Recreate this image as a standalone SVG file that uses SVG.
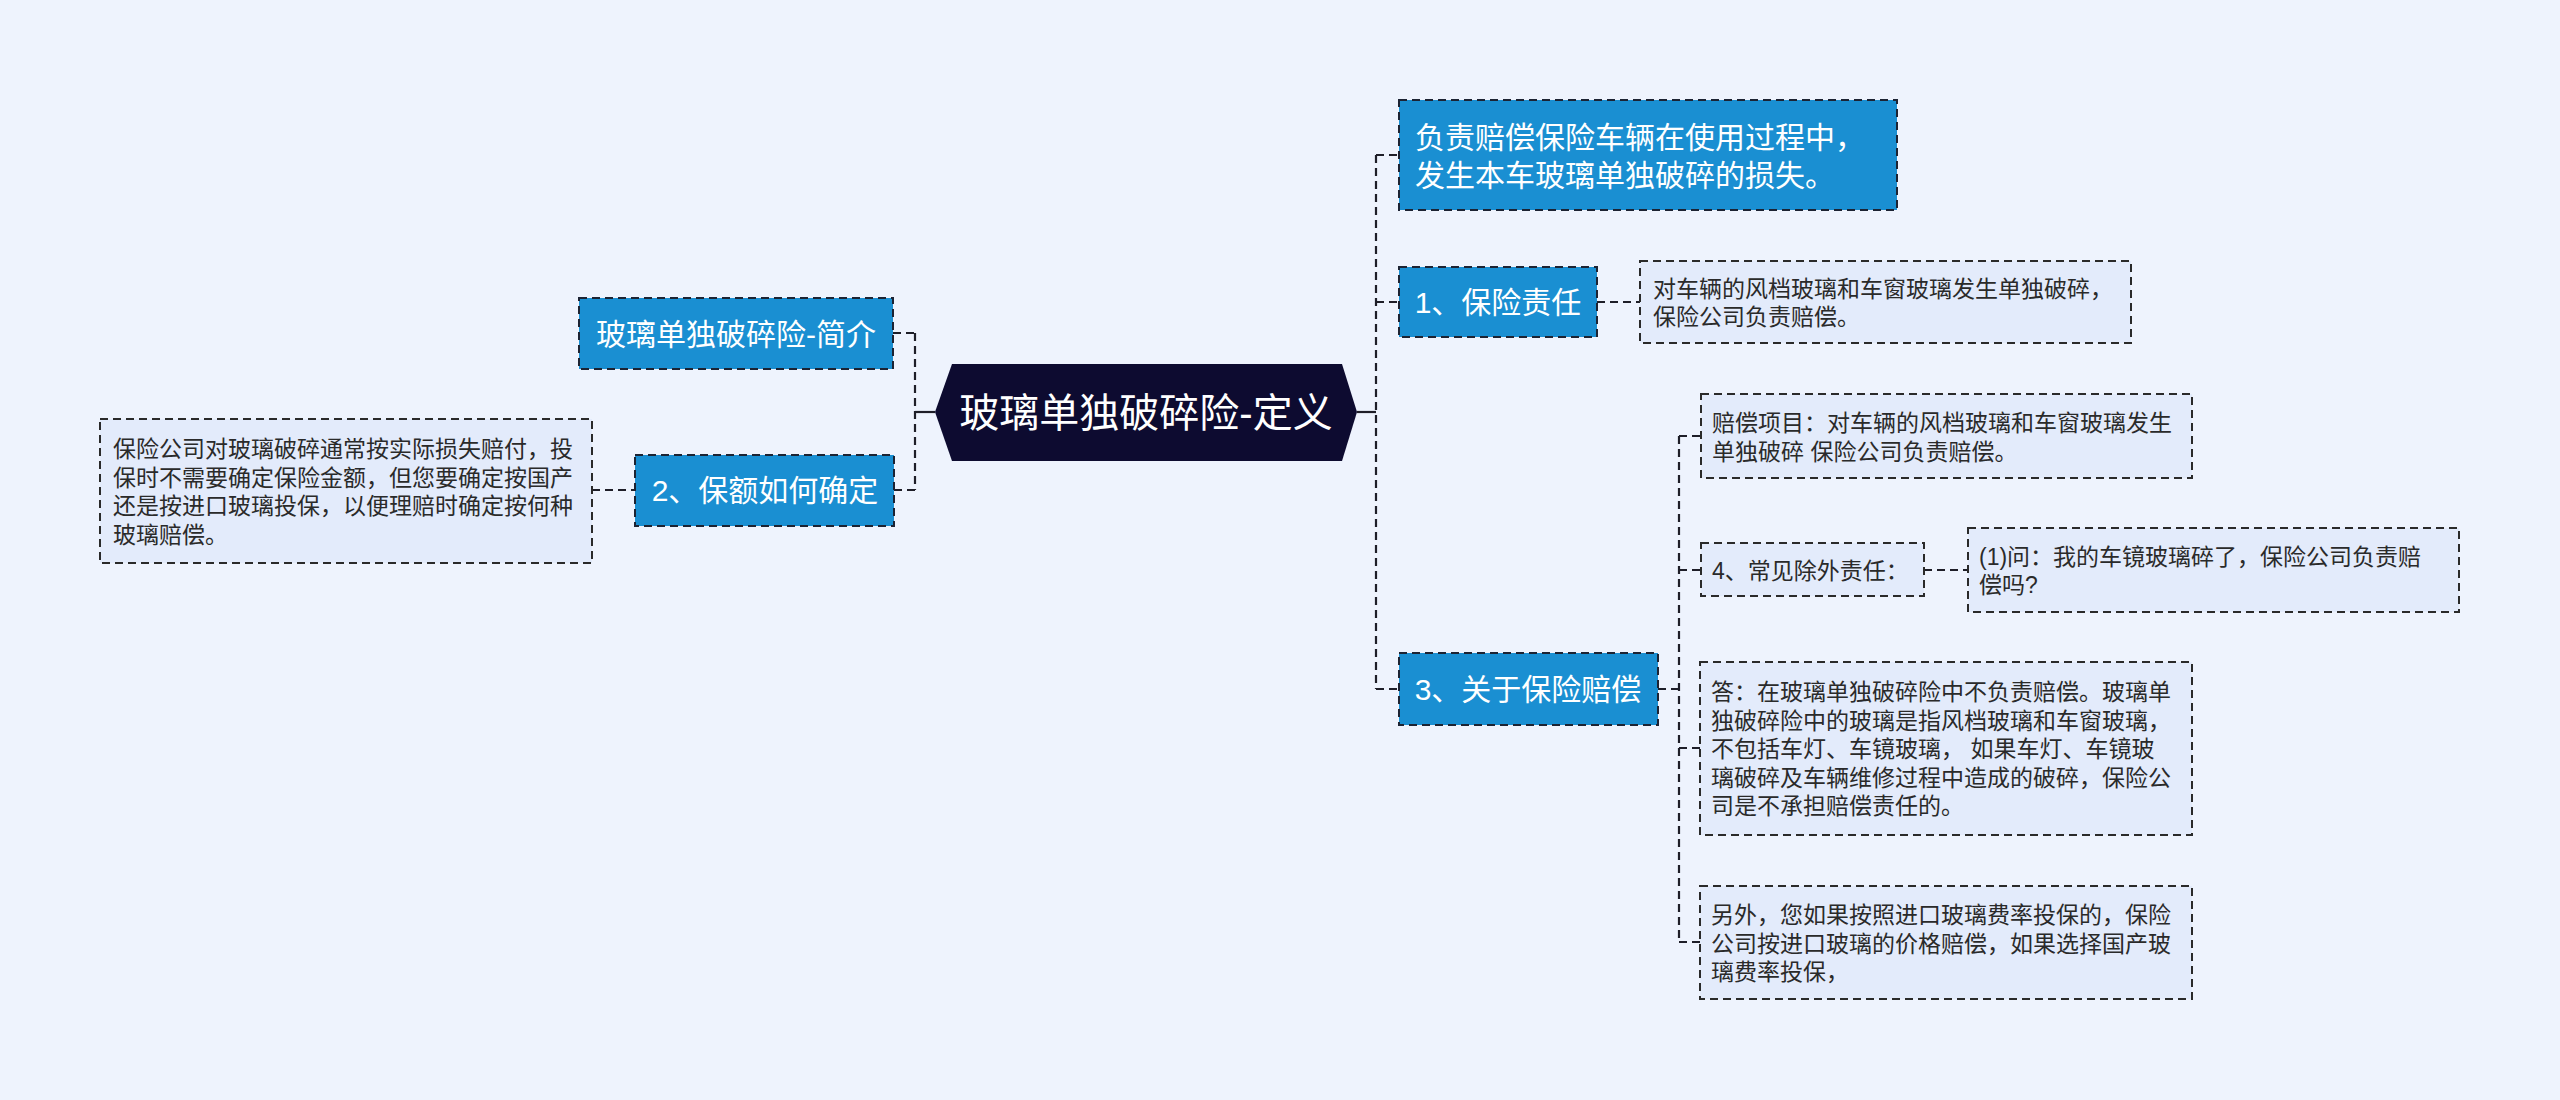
<svg xmlns="http://www.w3.org/2000/svg" width="2560" height="1100" viewBox="0 0 2560 1100">
<style>
.bg{fill:#eef3fd}
.blue{fill:#1a8fd2;stroke:#1c2333;stroke-width:2;stroke-dasharray:8 5}
.leaf{fill:#e3ebfb;stroke:#2a2a2a;stroke-width:2;stroke-dasharray:8 5}
.root{fill:#0d0b30}
.c{fill:none;stroke:#1e1e28;stroke-width:2.2;stroke-dasharray:8 5}
.cs{fill:none;stroke:#1e1e28;stroke-width:2.2}
text{font-family:"Liberation Sans","Noto Sans CJK SC",sans-serif}
.tr{font-size:40px;fill:#ffffff}
.t1{font-size:30px;fill:#ffffff}
.t2{font-size:23px;fill:#2a2a2a}
</style>
<rect class="bg" x="0" y="0" width="2560" height="1100"/>
<g id="connectors">
<path class="cs" d="M915 412H935"/>
<path class="c" d="M915 333V490"/>
<path class="c" d="M893 333H915"/>
<path class="c" d="M894 490H915"/>
<path class="c" d="M592 490H635"/>
<path class="cs" d="M1357 412H1376"/>
<path class="c" d="M1376 155V689"/>
<path class="c" d="M1376 155H1399"/>
<path class="c" d="M1376 302H1399"/>
<path class="c" d="M1376 689H1399"/>
<path class="c" d="M1597 302H1640"/>
<path class="c" d="M1658 689H1679"/>
<path class="c" d="M1679 436V942"/>
<path class="c" d="M1679 436H1701"/>
<path class="c" d="M1679 570H1701"/>
<path class="c" d="M1679 748H1701"/>
<path class="c" d="M1679 942H1701"/>
<path class="c" d="M1924 570H1968"/>
</g>
<g id="root">
<polygon class="root" points="935,412 952,364 1342,364 1357,412 1342,461 952,461"/>
<text class="tr" x="1146" y="427" text-anchor="middle">玻璃单独破碎险-定义</text>
</g>
<g id="intro">
<rect class="blue" x="579" y="298" width="314" height="71"/>
<text class="t1" x="736" y="345" text-anchor="middle">玻璃单独破碎险-简介</text>
</g>
<g id="amount">
<rect class="blue" x="635" y="455" width="259" height="71"/>
<text class="t1" x="765" y="501" text-anchor="middle">2、保额如何确定</text>
</g>
<g id="amount-detail">
<rect class="leaf" x="100" y="419" width="492" height="144"/>
<text class="t2" x="113" y="457">保险公司对玻璃破碎通常按实际损失赔付，投</text>
<text class="t2" x="113" y="485.5">保时不需要确定保险金额，但您要确定按国产</text>
<text class="t2" x="113" y="514">还是按进口玻璃投保，以便理赔时确定按何种</text>
<text class="t2" x="113" y="542.5">玻璃赔偿。</text>
</g>
<g id="definition">
<rect class="blue" x="1399" y="100" width="498" height="110"/>
<text class="t1" x="1415" y="148">负责赔偿保险车辆在使用过程中，</text>
<text class="t1" x="1415" y="186">发生本车玻璃单独破碎的损失。</text>
</g>
<g id="liability">
<rect class="blue" x="1399" y="267" width="198" height="70"/>
<text class="t1" x="1498" y="313" text-anchor="middle">1、保险责任</text>
</g>
<g id="liability-detail">
<rect class="leaf" x="1640" y="261" width="491" height="82"/>
<text class="t2" x="1653" y="296.5">对车辆的风档玻璃和车窗玻璃发生单独破碎，</text>
<text class="t2" x="1653" y="325">保险公司负责赔偿。</text>
</g>
<g id="compensation">
<rect class="blue" x="1399" y="653" width="259" height="72"/>
<text class="t1" x="1528" y="700" text-anchor="middle">3、关于保险赔偿</text>
</g>
<g id="comp-items">
<rect class="leaf" x="1701" y="394" width="491" height="84"/>
<text class="t2" x="1712" y="431">赔偿项目：对车辆的风档玻璃和车窗玻璃发生</text>
<text class="t2" x="1712" y="459.5">单独破碎 保险公司负责赔偿。</text>
</g>
<g id="exclusions">
<rect class="leaf" x="1701" y="543" width="223" height="53"/>
<text class="t2" x="1712" y="579">4、常见除外责任：</text>
</g>
<g id="question">
<rect class="leaf" x="1968" y="528" width="491" height="84"/>
<text class="t2" x="1979" y="564.5">(1)问：我的车镜玻璃碎了，保险公司负责赔</text>
<text class="t2" x="1979" y="593">偿吗?</text>
</g>
<g id="answer">
<rect class="leaf" x="1700" y="662" width="492" height="173"/>
<text class="t2" x="1711" y="700">答：在玻璃单独破碎险中不负责赔偿。玻璃单</text>
<text class="t2" x="1711" y="728.5">独破碎险中的玻璃是指风档玻璃和车窗玻璃，</text>
<text class="t2" x="1711" y="757">不包括车灯、车镜玻璃， 如果车灯、车镜玻</text>
<text class="t2" x="1711" y="785.5">璃破碎及车辆维修过程中造成的破碎，保险公</text>
<text class="t2" x="1711" y="814">司是不承担赔偿责任的。</text>
</g>
<g id="import">
<rect class="leaf" x="1700" y="886" width="492" height="113"/>
<text class="t2" x="1711" y="923">另外，您如果按照进口玻璃费率投保的，保险</text>
<text class="t2" x="1711" y="951.5">公司按进口玻璃的价格赔偿，如果选择国产玻</text>
<text class="t2" x="1711" y="980">璃费率投保，</text>
</g>
</svg>
